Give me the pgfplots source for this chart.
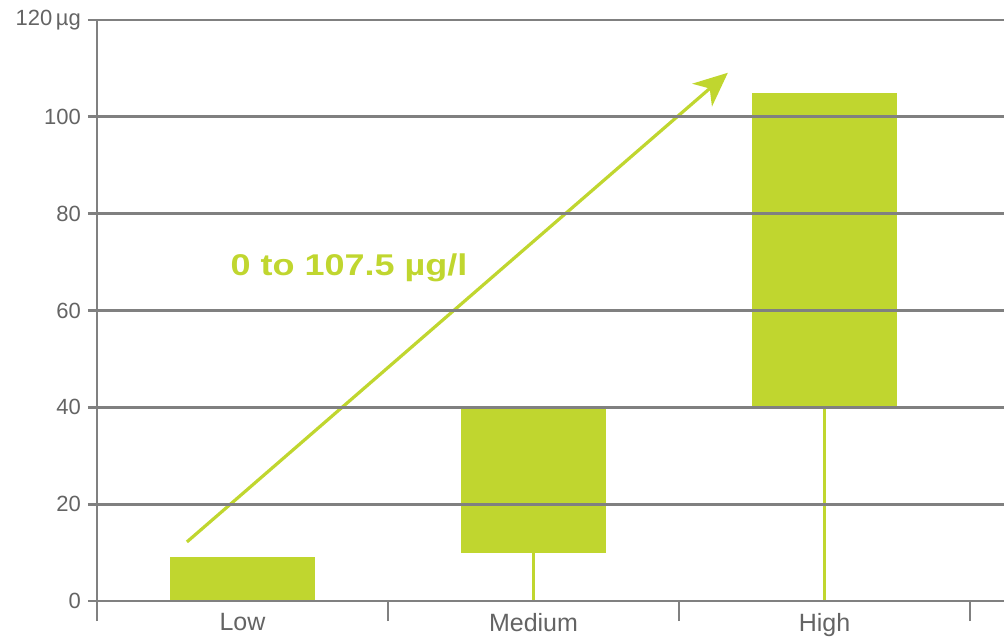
\documentclass[border=0pt]{standalone}
\usepackage{pgfplots}
\pgfplotsset{compat=1.18}
\usepackage{fontspec}
\setmainfont{Liberation Sans}
\usetikzlibrary{arrows.meta}
\definecolor{barg}{RGB}{192,214,47}
\definecolor{gridg}{RGB}{128,128,128}
\definecolor{labg}{RGB}{100,100,100}
\begin{document}
\begin{tikzpicture}
\useasboundingbox (-48.5pt,-17.5pt) rectangle (453.5pt,300.5pt);
\begin{axis}[
  scale only axis,
  width=453.5pt, height=290.5pt,
  xmin=-0.5, xmax=2.617, ymin=0, ymax=120,
  axis x line*=bottom, axis y line*=left,
  axis line style={gridg, line width=1.4pt},
  ytick={0,20,40,60,80,100,120},
  yticklabels={0,20,40,60,80,100,120\,µg},
  xtick={0,1,2},
  xticklabels={Low,Medium,High},
  minor xtick={-0.5,0.5,1.5,2.5},
  major x tick style={draw=none},
  tick align=outside,
  major tick length=4.5pt,
  minor tick length=10pt,
  tick style={gridg, line width=1.4pt},
  ymajorgrids,
  grid style={gridg, line width=1.4pt},
  yticklabel style={font=\fontsize{11}{13}\selectfont, text=labg},
  xticklabel style={font=\fontsize{12.5}{14}\selectfont, text=labg, yshift=2pt},
  axis on top,
  clip=false,
]
\addplot[fill=barg, draw=none] coordinates {(-0.25,0) (-0.25,9) (0.25,9) (0.25,0)} -- cycle;
\addplot[fill=barg, draw=none] coordinates {(0.75,10) (0.75,40) (1.25,40) (1.25,10)} -- cycle;
\addplot[fill=barg, draw=none] coordinates {(1.75,40) (1.75,105) (2.25,105) (2.25,40)} -- cycle;
\addplot[barg, line width=1.6pt] coordinates {(1,0) (1,10)};
\addplot[barg, line width=1.6pt] coordinates {(2,0) (2,40)};
\addplot[barg, line width=1.6pt, -{Stealth[length=17pt,width=15pt,inset=5pt]}] coordinates {(-0.191,12.2) (1.668,109.1)};
\node[text=barg, font=\bfseries\fontsize{15}{17}\selectfont, xscale=1.2] at (axis cs:0.366,68.8) {0 to 107.5 µg/l};
\end{axis}
\end{tikzpicture}
\end{document}
